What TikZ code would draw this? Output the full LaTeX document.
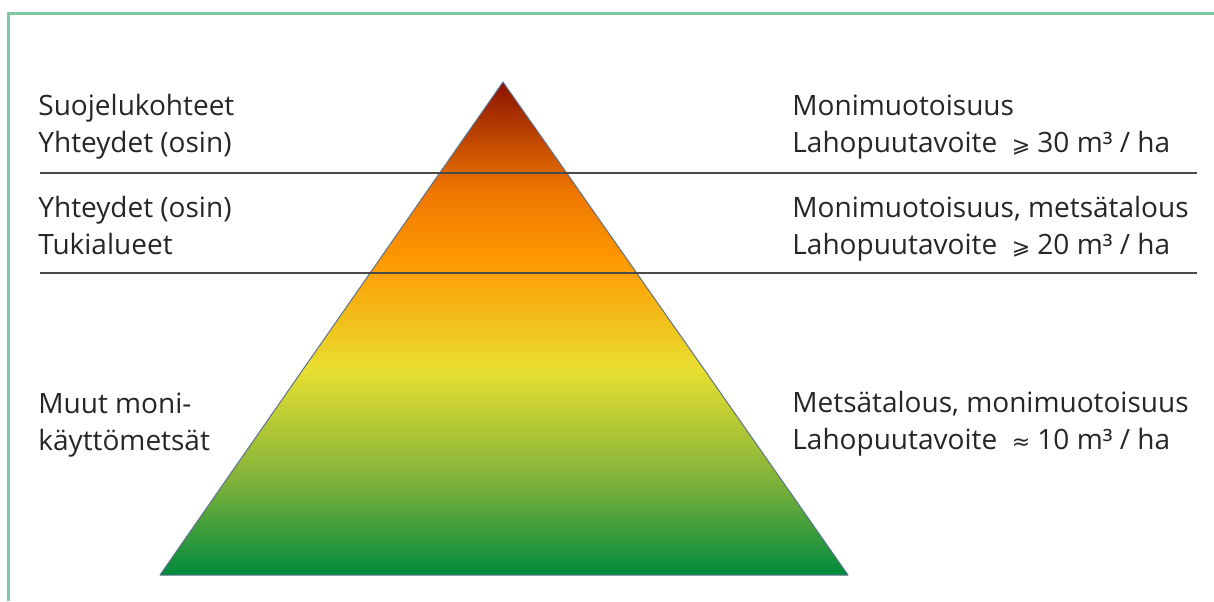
\documentclass[tikz,border=0pt]{standalone}
\usepackage{fontspec}
\setmainfont{Open Sans}
\newfontfamily\symbolfont{DejaVu Sans}

\definecolor{framegreen}{HTML}{7CC9A0}
\definecolor{rulegray}{HTML}{4A4A4A}
\definecolor{edgeblue}{HTML}{5C7391}
\definecolor{textgray}{HTML}{262626}
\definecolor{forestgreen}{HTML}{008A3C}
\definecolor{grassgreen}{HTML}{80B23A}
\definecolor{lemon}{HTML}{E8DF30}
\definecolor{amber}{HTML}{FF9800}
\definecolor{rust}{HTML}{EE7600}
\definecolor{maroon}{HTML}{8A1200}

\pgfdeclareverticalshading{tiershade}{100bp}{%
  color(0bp)=(forestgreen); color(25bp)=(forestgreen);
  color(34.6bp)=(grassgreen); color(45.8bp)=(lemon);
  color(57bp)=(amber); color(64bp)=(rust);
  color(75bp)=(maroon); color(100bp)=(maroon)}

\tikzset{
  tiertext/.style={anchor=base west, inner sep=0pt, text=textgray,
    font=\fontsize{14}{17}\selectfont},
  tierrule/.style={draw=rulegray, line width=1pt},
}

\begin{document}
\begin{tikzpicture}[x=0.5pt,y=-0.5pt]
  \newcommand\tierlabel[4]{% {<name>}{<base point>}{<first line>}{<second line>}
    \node[tiertext] (#1a) at #2 {#3};
    \node[tiertext] (#1b) at ([yshift=-18.5pt]#1a.base west) {#4};
  }
  \newcommand\atleastsym{{\symbolfont\fontsize{11}{11}\selectfont ⩾}}
  \newcommand\aboutsym{{\symbolfont\fontsize{11}{11}\selectfont ≈}}

  \useasboundingbox (0,0) rectangle (1214,601);
  \draw[framegreen, line width=1.5pt] (8,601) -- (8,13) -- (1214,13);

  % pyramid
  \coordinate (apex) at (503,82);
  \coordinate (baseleft) at (160,575);
  \coordinate (baseright) at (848,575);
  \shade[shading=tiershade] (apex) -- (baseright) -- (baseleft) -- cycle;
  \draw[edgeblue, line width=0.5pt, line join=round] (apex) -- (baseright) -- (baseleft) -- cycle;

  % tier borders
  \draw[tierrule] (40,173) -- (1197,173);
  \draw[tierrule] (40,273) -- (1197,273);

  \tierlabel{topleft}{(38,115)}{Suojelukohteet}{Yhteydet (osin)}
  \tierlabel{midleft}{(38,217)}{Yhteydet (osin)}{Tukialueet}
  \tierlabel{lowleft}{(38,413)}{Muut moni-}{käyttömetsät}

  \tierlabel{topright}{(792,115)}{Monimuotoisuus}{Lahopuutavoite \ \atleastsym\ 30 m³ / ha}
  \tierlabel{midright}{(792,217)}{Monimuotoisuus, metsätalous}{Lahopuutavoite \ \atleastsym\ 20 m³ / ha}
  \tierlabel{lowright}{(792,412)}{Metsätalous, monimuotoisuus}{Lahopuutavoite \ \aboutsym\ 10 m³ / ha}
\end{tikzpicture}
\end{document}
